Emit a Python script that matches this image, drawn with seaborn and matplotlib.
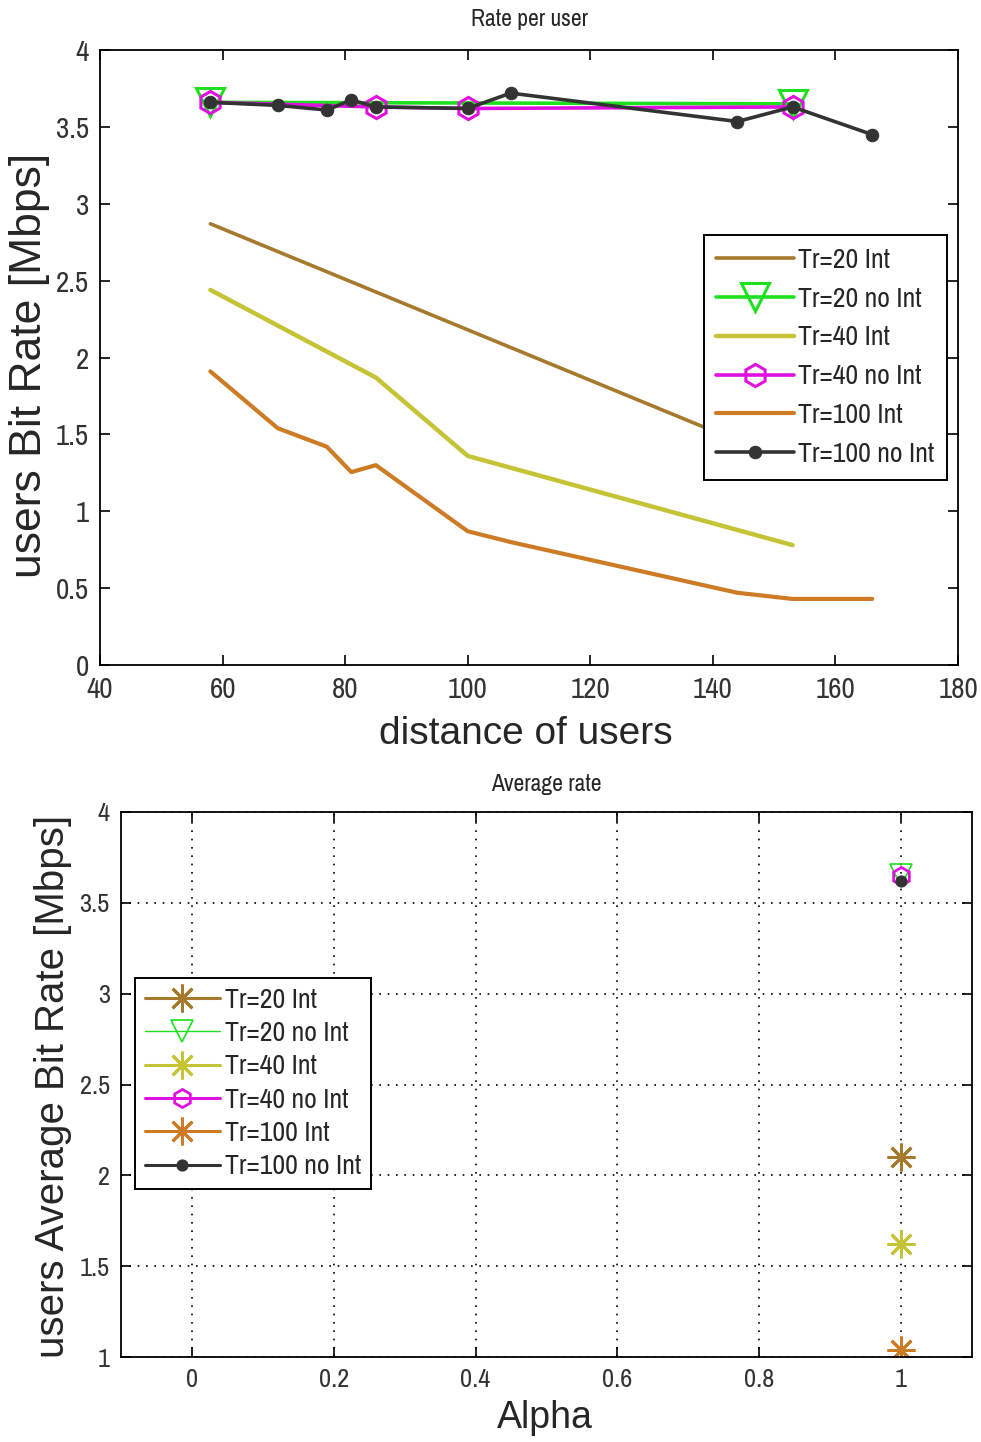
import matplotlib
matplotlib.use("Agg")
import matplotlib.pyplot as plt
from matplotlib import font_manager as fm
from matplotlib.ticker import FormatStrFormatter
import seaborn as sns
import pandas as pd

# ---------------- data ----------------
series_names = ["Tr=20 Int", "Tr=20 no Int", "Tr=40 Int", "Tr=40 no Int", "Tr=100 Int", "Tr=100 no Int"]

# top panel: rate per user vs distance
tr20_int_x = [58, 153]
tr20_int_y = [2.87, 1.31]
tr20_noint_x = [58, 153]
tr20_noint_y = [3.66, 3.65]
tr40_int_x = [58, 85, 100, 153]
tr40_int_y = [2.44, 1.87, 1.36, 0.78]
tr40_noint_x = [58, 85, 100, 153]
tr40_noint_y = [3.66, 3.63, 3.62, 3.63]
tr100_int_x = [58, 69, 77, 81, 85, 100, 107, 144, 153, 166]
tr100_int_y = [1.91, 1.54, 1.42, 1.255, 1.30, 0.87, 0.80, 0.47, 0.43, 0.43]
tr100_noint_x = [58, 69, 77, 81, 85, 100, 107, 144, 153, 166]
tr100_noint_y = [3.66, 3.64, 3.61, 3.675, 3.63, 3.62, 3.72, 3.535, 3.63, 3.45]

# bottom panel: average rate vs alpha
alpha_vals = [1.0]
avg_tr20_int = [2.10]
avg_tr20_noint = [3.655]
avg_tr40_int = [1.62]
avg_tr40_noint = [3.645]
avg_tr100_int = [1.04]
avg_tr100_noint = [3.62]

top_xticks = [40, 60, 80, 100, 120, 140, 160, 180]
top_yticks = [0, 0.5, 1, 1.5, 2, 2.5, 3, 3.5, 4]
bot_xticks = [0, 0.2, 0.4, 0.6, 0.8, 1]
bot_yticks = [1, 1.5, 2, 2.5, 3, 3.5, 4]

# ---------------- style ----------------
sns.set_theme(style="white")
regular = "Liberation Sans"
narrow_props = None
for f in fm.fontManager.ttflist:
    nm = f.name.lower()
    if ("narrow" in nm or "condensed" in nm) and f.weight in (400, "normal", "regular") and f.style == "normal":
        narrow_props = fm.FontProperties(fname=f.fname)
        break
if narrow_props is None:
    for f in fm.fontManager.ttflist:
        if str(f.stretch) in ("condensed", "semi-condensed") and f.style == "normal" and f.weight in (400, "normal"):
            narrow_props = fm.FontProperties(fname=f.fname)
            break
narrow_found = narrow_props is not None
plt.rcParams["font.family"] = [regular, "DejaVu Sans"]

c20 = "#a67a2c"
c40 = "#c4c436"
c100 = "#cd7b24"
cgreen = "#1ee01e"
cmag = "#e010e0"
cblack = "#333333"

fig = plt.figure(figsize=(9.81, 14.42), dpi=100)
ax1 = fig.add_axes([0.102, 0.5388, 0.8746, 0.4265])
ax2 = fig.add_axes([0.1233, 0.0589, 0.8675, 0.378])


def df(x, y):
    return pd.DataFrame({"x": x, "y": y})


def nprop(size):
    if narrow_found:
        p = narrow_props.copy()
        p.set_size(size)
        return p
    return fm.FontProperties(family=regular, size=size * 0.88)


lw = 2.6
sns.lineplot(data=df(tr20_int_x, tr20_int_y), x="x", y="y", ax=ax1, color=c20, lw=lw,
             label=series_names[0], sort=False, estimator=None)
sns.lineplot(data=df(tr20_noint_x, tr20_noint_y), x="x", y="y", ax=ax1, color=cgreen, lw=lw,
             marker="v", markersize=20, markerfacecolor="none", markeredgecolor=cgreen,
             markeredgewidth=2.2, label=series_names[1], sort=False, estimator=None)
sns.lineplot(data=df(tr40_int_x, tr40_int_y), x="x", y="y", ax=ax1, color=c40, lw=lw + 0.6,
             label=series_names[2], sort=False, estimator=None)
sns.lineplot(data=df(tr40_noint_x, tr40_noint_y), x="x", y="y", ax=ax1, color=cmag, lw=lw,
             marker="h", markersize=16, markerfacecolor="none", markeredgecolor=cmag,
             markeredgewidth=2.2, label=series_names[3], sort=False, estimator=None)
sns.lineplot(data=df(tr100_int_x, tr100_int_y), x="x", y="y", ax=ax1, color=c100, lw=lw + 0.4,
             label=series_names[4], sort=False, estimator=None)
sns.lineplot(data=df(tr100_noint_x, tr100_noint_y), x="x", y="y", ax=ax1, color=cblack, lw=lw,
             marker="o", markersize=9, markerfacecolor=cblack, markeredgecolor=cblack,
             label=series_names[5], sort=False, estimator=None)

ax1.set_xlim(40, 180)
ax1.set_ylim(0, 4)
ax1.set_xticks(top_xticks)
ax1.set_yticks(top_yticks)
ax1.yaxis.set_major_formatter(FormatStrFormatter("%g"))
ax1.set_title("Rate per user", fontproperties=nprop(17), pad=17)
ax1.set_xlabel("distance of users", fontsize=28)
ax1.set_ylabel("users Bit Rate [Mbps]", fontsize=32)
ax1.xaxis.set_label_coords(0.4965, -0.083)
ax1.yaxis.set_label_coords(-0.058, 0.487)
leg1 = ax1.legend(loc="upper right", bbox_to_anchor=(0.987, 0.699), borderaxespad=0,
                  prop=nprop(20), frameon=True, fancybox=False,
                  edgecolor="black", framealpha=1, handlelength=2.8, labelspacing=0.5,
                  handletextpad=0.15, borderpad=0.45)
leg1.get_frame().set_linewidth(1.4)

# bottom panel
ms = 20
sns.lineplot(data=df(alpha_vals, avg_tr20_int), x="x", y="y", ax=ax2, color=c20, lw=2.2,
             marker=(8, 2, 0), markersize=ms, markeredgecolor=c20, markeredgewidth=2,
             label=series_names[0], estimator=None)
sns.lineplot(data=df(alpha_vals, avg_tr20_noint), x="x", y="y", ax=ax2, color=cgreen, lw=1,
             marker="v", markersize=16, markerfacecolor="none", markeredgecolor=cgreen,
             markeredgewidth=1.2, label=series_names[1], estimator=None)
sns.lineplot(data=df(alpha_vals, avg_tr40_int), x="x", y="y", ax=ax2, color=c40, lw=2.2,
             marker=(8, 2, 0), markersize=ms, markeredgecolor=c40, markeredgewidth=2,
             label=series_names[2], estimator=None)
sns.lineplot(data=df(alpha_vals, avg_tr40_noint), x="x", y="y", ax=ax2, color=cmag, lw=2.2,
             marker="h", markersize=13, markerfacecolor="none", markeredgecolor=cmag,
             markeredgewidth=2, label=series_names[3], estimator=None)
sns.lineplot(data=df(alpha_vals, avg_tr100_int), x="x", y="y", ax=ax2, color=c100, lw=2.2,
             marker=(8, 2, 0), markersize=ms, markeredgecolor=c100, markeredgewidth=2,
             label=series_names[4], estimator=None)
sns.lineplot(data=df(alpha_vals, avg_tr100_noint), x="x", y="y", ax=ax2, color=cblack, lw=2.2,
             marker="o", markersize=8, markerfacecolor=cblack, markeredgecolor=cblack,
             label=series_names[5], estimator=None)

ax2.set_xlim(-0.1, 1.1)
ax2.set_ylim(1, 4)
ax2.set_xticks(bot_xticks)
ax2.set_yticks(bot_yticks)
ax2.xaxis.set_major_formatter(FormatStrFormatter("%g"))
ax2.yaxis.set_major_formatter(FormatStrFormatter("%g"))
ax2.grid(True, color="black", linestyle=(0, (1, 4)), linewidth=1.2)
ax2.set_title("Average rate", fontproperties=nprop(17), pad=15)
ax2.set_xlabel("Alpha", fontsize=27)
ax2.set_ylabel("users Average Bit Rate [Mbps]", fontsize=29)
ax2.xaxis.set_label_coords(0.4977, -0.078)
ax2.yaxis.set_label_coords(-0.058, 0.497)
leg2 = ax2.legend(loc="upper left", bbox_to_anchor=(0.0165, 0.6954), borderaxespad=0,
                  prop=nprop(20), frameon=True, fancybox=False,
                  edgecolor="black", framealpha=1, handlelength=2.7, labelspacing=0.3,
                  handletextpad=0.2, borderpad=0.35)
leg2.get_frame().set_linewidth(1.4)

for ax, fs in ((ax1, 21), (ax2, 19)):
    for sp in ax.spines.values():
        sp.set_visible(True)
        sp.set_color("black")
        sp.set_linewidth(1.3)
    ax.tick_params(axis="both", which="both", direction="in", length=7, width=1.2,
                   top=True, right=True, bottom=True, left=True,
                   colors="black", pad=8)
    for lab in ax.get_xticklabels() + ax.get_yticklabels():
        lab.set_fontproperties(nprop(fs))
        lab.set_color("#333333")

fig.savefig("out.png", dpi=100, facecolor="white")
